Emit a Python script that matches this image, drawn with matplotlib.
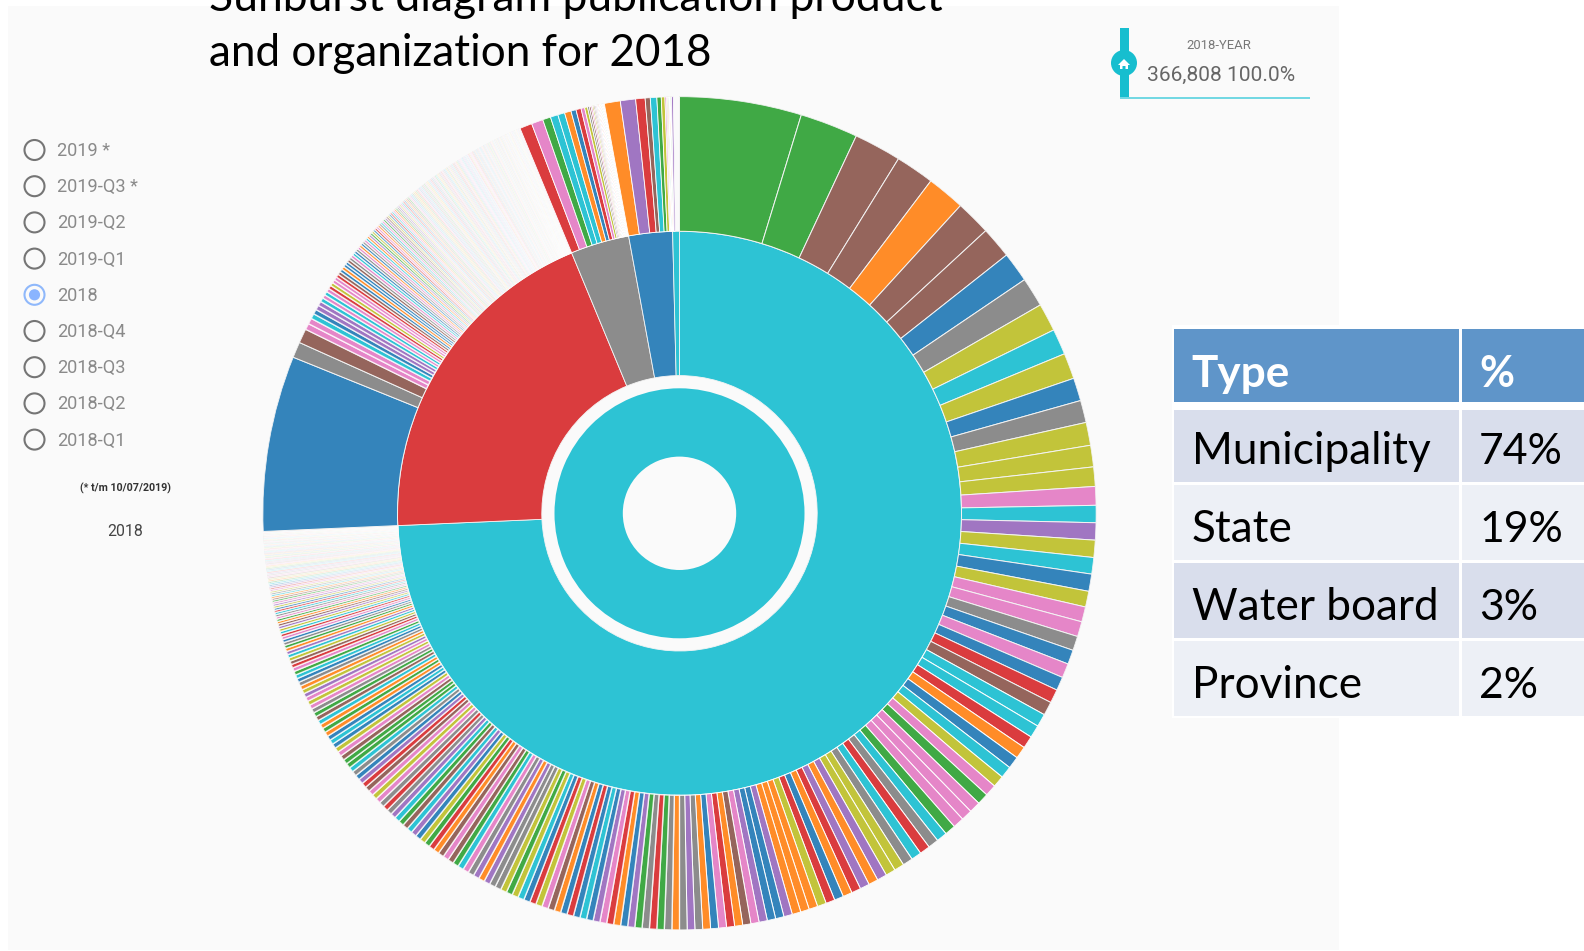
import numpy as np
import matplotlib
matplotlib.use("Agg")
import matplotlib.pyplot as plt
from matplotlib.patches import Rectangle, Circle, Polygon

# ---------- data (all sweeps in degrees of the 360 deg total) ----------
TOTAL_LABEL = "366,808 100.0%"
radio_labels = ["2019 *", "2019-Q3 *", "2019-Q2", "2019-Q1", "2018", "2018-Q4", "2018-Q3", "2018-Q2", "2018-Q1"]
radio_selected = "2018"
table_types = ["Municipality", "State", "Water board", "Province"]
table_pcts = ["74%", "19%", "3%", "2%"]

ring2_values = [267.5, 70.0, 12.1, 9.0, 1.4]
ring2_colours = "TRGBT"

muni_head = [17.0, 8.1, 6.6, 5.4, 5.3, 4.9, 4.4, 4.2, 4.1, 3.9, 3.6, 3.6, 3.2, 3.1, 3.2, 3.0, 2.7, 2.6, 2.4, 2.4,
             2.4, 2.3, 2.4, 2.2, 2.1, 2.1, 2.0, 2.0, 2.0, 1.9, 1.9, 1.9]
muni_head_c = "EENNANNBGOTOBGOOOPTVOTBOPPGBPBRN"
muni_mid = [1.8, 1.75, 1.72, 1.7, 1.68, 1.65, 1.62, 1.6, 1.58, 1.56, 1.54, 1.52, 1.5, 1.48, 1.46, 1.44, 1.42, 1.4, 1.38, 1.36,
            1.35, 1.33, 1.31, 1.3, 1.28, 1.27, 1.25, 1.24, 1.22, 1.21, 1.2, 1.18, 1.17, 1.16, 1.15, 1.14, 1.13, 1.12, 1.11, 1.1,
            1.09, 1.08, 1.07, 1.06, 1.05]
muni_mid_c = "TTRABTOPEPPPETGRTGOOVAVRABROAAAVBBVPNARPBAGVG"
muni_tail = [1.05, 1.04, 1.03, 1.02, 1.01, 1.0, .99, .98, .97, .96, .95, .94, .93, .93, .92, .91, .91, .9, .9, .89, .89,
             .88, .88, .87, .87, .86, .86, .85, .85, .84, .84, .83, .83, .82, .82, .81, .81, .8, .8, .79, .79, .78, .78, .77, .77,
             .76, .76, .75, .75, .74, .74, .73, .73, .72, .72, .71, .71, .7, .7, .69, .69, .68, .68, .67, .67, .66, .66, .65, .65, .64,
             .63, .63, .62, .62, .61, .61, .6, .6, .59, .59, .58, .58, .57, .56,
             .55, .54, .53, .52, .5, .49, .48, .47, .46, .45, .43, .42, .41, .4, .39, .38, .37, .36,
             .35, .34, .33, .32, .32, .31, .3, .3, .29, .28, .28, .27, .26, .26, .25, .25, .24, .24, .23, .23, .22,
             .22, .21, .21, .2, .2, .2, .19, .19, .18, .18, .18, .17, .17, .16, .16, .15,
             .15, .15, .15, .14, .14, .14, .14, .13, .13, .13, .13, .13, .12, .12, .12, .12, .12, .11, .11, .11, .11, .11, .1, .1, .1,
             .1, .1, .1, .09, .09, .09, .09, .09, .08, .08, .08, .08, .07, .07, .06]
muni_tail_c = ("AGERGEVBARPVBTBRBANPORBTOEOGGVA"
               "VGPTENPNAREOBVTNETVGRGPOPNRVBGTEENPOBTBAEATNEGPO"
               "PVOAGBTEPRNOTVAEGBPRTOVNAEPGTRBOVPENATGOPRVBTEAONPGVRTBEOAPNVGTRPEOBANVTGPROEBVATNGPEROTBVANPEGORTV")

state_big = [24.5, 2.2, 2.0]
state_big_c = "BGN"
state_head = [.85, .8, .7, .65, .65, .6, .55, .5, .5, .5, .48, .46, .46, .45, .44, .44, .42, .42, .4, .4, .4,
              .38, .38, .36, .36, .35, .34, .33, .33]
state_head_c = "PPTBVVTPTPROPPRNBABBNGPTBGPAB"
state_pale = [.32, .32, .31, .31, .3, .3, .3, .29, .29, .28, .28, .28, .27, .27, .27, .26, .26, .25, .25, .25,
              .24, .24, .24, .23, .23, .23, .22, .22, .22, .22, .21, .21, .21, .21, .2, .2, .2, .2, .2, .2,
              .18, .18, .18, .18, .18, .18, .18, .18, .18, .18, .18, .18, .18, .18, .18, .18, .18, .18, .18, .18,
              .16, .16, .16, .16, .16, .16, .16, .16, .16, .16, .16, .16, .16, .16, .16, .16, .16, .16, .16, .16,
              .14, .14, .14, .14, .14, .14, .14, .14, .14, .14, .14, .14, .14, .14, .14, .14, .14, .14, .14, .14,
              .12, .12, .12, .12, .12, .12, .12, .12, .12, .12, .12, .12, .12, .12, .12, .12, .12, .12, .12, .12,
              .1, .1, .1, .1, .1, .1, .1, .1, .1, .1, .1, .1, .1, .1, .1, .1, .1, .1, .1, .1,
              .08, .08, .08, .08, .08, .08, .08, .08, .08, .08, .08, .08, .08, .08, .08, .08, .08, .08, .08, .08,
              .08, .08, .08, .08, .08, .08, .08, .08, .08, .08]
state_pale_c = "GPTAVEOBRPAGTPEVNOBRTPAEGVOPTRBANEPVTGOAERPBVTNGEPOATVRBGPETAONVRPGBTAEPOVGTRNPAEBV"

water_values = [1.7, 1.6, 1.1, 1.05, .95, .9, .7, .7, .5, .4, .25, .22, .2, .18, .16, .15, .14, .12, .11, .1, .1, .09, .09, .08, .08, .07, .07, .06, .06]
water_c = "RPETTABRPOGNPONGPTARPVOEBTPAG"
province_values = [2.2, 2.1, 1.3, .7, .9, .6, .5, .2, .15, .15, .1]
province_c = "AVRNTEOPGAT"
other_values = [.1, .1, .1, .25]
other_c = "PAEV"

PALETTE = dict(T="#2dc3d4", R="#da3c3e", G="#8c8c8c", B="#3484bb", E="#40a945", N="#95655c",
               A="#ff8c28", O="#c2c43a", P="#e586c8", V="#a076c2")

# ---------- canvas ----------
W, H = 1584, 951
CX, CY = 679.5, 513.3
R = 417.0
fig = plt.figure(figsize=(W / 100, H / 100), dpi=100, facecolor="white")
bg = fig.add_axes([0, 0, 1, 1])
bg.set_xlim(0, W)
bg.set_ylim(H, 0)
bg.axis("off")
bg.add_patch(Rectangle((8, 6), 1331, 944, fc="#fafafa", ec="none"))

# ---------- sunburst ----------
ax = fig.add_axes([(CX - R) / W, 1 - (CY + R) / H, 2 * R / W, 2 * R / H], projection="polar")
ax.patch.set_alpha(0)
ax.set_theta_zero_location("N")
ax.set_theta_direction(-1)
ax.set_ylim(0, R)
ax.axis("off")

SOFT = (1, 1, 1, 0.8)


def ring(values, colours, start, r0, r1, span=None, lw=0.55, edge="#f4f4f4"):
    vals = np.asarray(values, float)
    if span is not None:
        vals = vals * span / vals.sum()
    lefts = start + np.concatenate([[0], np.cumsum(vals)[:-1]])
    cols = [PALETTE[colours[i % len(colours)]] for i in range(len(vals))]
    ax.bar(np.deg2rad(lefts), r1 - r0, width=np.deg2rad(vals), bottom=r0, align="edge",
           color=cols, edgecolor=edge, linewidth=lw)


ax.bar(0, 125 - 56.7, width=2 * np.pi, bottom=56.7, align="edge", color=PALETTE["T"], linewidth=0)
ring(ring2_values, ring2_colours, 0, 137.7, 282, lw=0.6)
ring(muni_head, muni_head_c, 0, 282, 416.7, span=118.9, lw=0.7)
ring(muni_mid, muni_mid_c, 118.9, 282, 416.7, span=61.1, lw=0.7, edge="white")
ring(muni_tail, muni_tail_c, 180, 282, 416.7, span=87.5, lw=1.0, edge=SOFT)
ring(state_big, state_big_c, 267.5, 282, 416.7, lw=0.7)
ring(state_head + state_pale, state_head_c + state_pale_c, 296.2, 282, 416.7, span=41.3, lw=1.0, edge=SOFT)
ring(water_values, water_c, 337.5, 282, 416.7, span=12.1, lw=0.6, edge="white")
ring(province_values, province_c, 349.6, 282, 416.7, span=9.0, lw=0.6, edge="white")
ring(other_values, other_c, 358.6, 282, 416.7, lw=0.6, edge="white")

# ---------- title ----------
bg.text(209, 11, "Sunburst diagram publication product", family="Lato", fontsize=32, color="black", va="baseline")
bg.text(209, 66.5, "and organization for 2018", family="Lato", fontsize=31.7, color="black", va="baseline")

# ---------- radio list ----------
for i, lab in enumerate(radio_labels):
    y = 150 + i * 36.2
    if lab == radio_selected:
        bg.add_patch(Circle((34.5, y), 10, fc="none", ec="#8fb8fb", lw=1.5))
        bg.add_patch(Circle((34.5, y), 5.6, fc="#8ab4ff", ec="none"))
    else:
        bg.add_patch(Circle((34.5, y), 10, fc="none", ec="#757575", lw=1.5))
    bg.text(57, y - 1, lab, family="Roboto", fontsize=13.1, color="#8a8a8a", va="center_baseline")
bg.text(125, 487, "(* t/m 10/07/2019)", family="Roboto", fontsize=7.7, weight="bold", color="#333333", ha="center", va="center_baseline")
bg.text(125.5, 530.5, "2018", family="Roboto", fontsize=11.4, color="#444444", ha="center", va="center_baseline")

# ---------- breadcrumb ----------
bg.add_patch(Rectangle((1120, 28), 9, 70, fc="#17becf", ec="none"))
bg.add_patch(Circle((1124, 63), 13, fc="#17becf", ec="none"))
bg.add_patch(Rectangle((1120, 97), 190, 1.6, fc="#73d8e3", ec="none"))
bg.add_patch(Polygon([(1118, 65), (1124, 59), (1130, 65), (1128, 65), (1128, 69), (1125.5, 69), (1125.5, 66),
                      (1122.5, 66), (1122.5, 69), (1120, 69), (1120, 65)], fc="white", ec="none"))
bg.text(1218.5, 43.8, "2018-YEAR", family="Roboto", fontsize=9.4, color="#777777", ha="center", va="center_baseline")
bg.text(1147, 73.2, TOTAL_LABEL, family="Roboto", fontsize=15.1, color="#666666", va="center_baseline")

# ---------- table ----------
bg.add_patch(Rectangle((1172, 325), W - 1172, 393, fc="white", ec="none"))
col_x = [(1174, 285), (1461.5, W - 1461.5)]
rows = [(329, 72.7, "#5f95c9"), (410, 72.3, "#d9deec"), (485, 75, "#edf0f6"), (563, 74.7, "#d9deec"), (640.7, 75, "#edf0f6")]
for y, h, c in rows:
    for x, w in col_x:
        bg.add_patch(Rectangle((x, y), w, h, fc=c, ec="none"))
TS = 31.8
bg.text(1191, 386.7, "Type", family="Lato", weight="bold", fontsize=TS, color="white", va="baseline")
bg.text(1479, 386.7, "%", family="Lato", weight="bold", fontsize=30.8, color="white", va="baseline")
for base, t, p in zip([464.5, 541.5, 619.5, 698], table_types, table_pcts):
    bg.text(1192, base, t, family="Lato", fontsize=TS, color="black", va="baseline")
    bg.text(1479, base, p, family="Lato", fontsize=30.8, color="black", va="baseline")

fig.savefig("out.png", dpi=100, facecolor="white")
